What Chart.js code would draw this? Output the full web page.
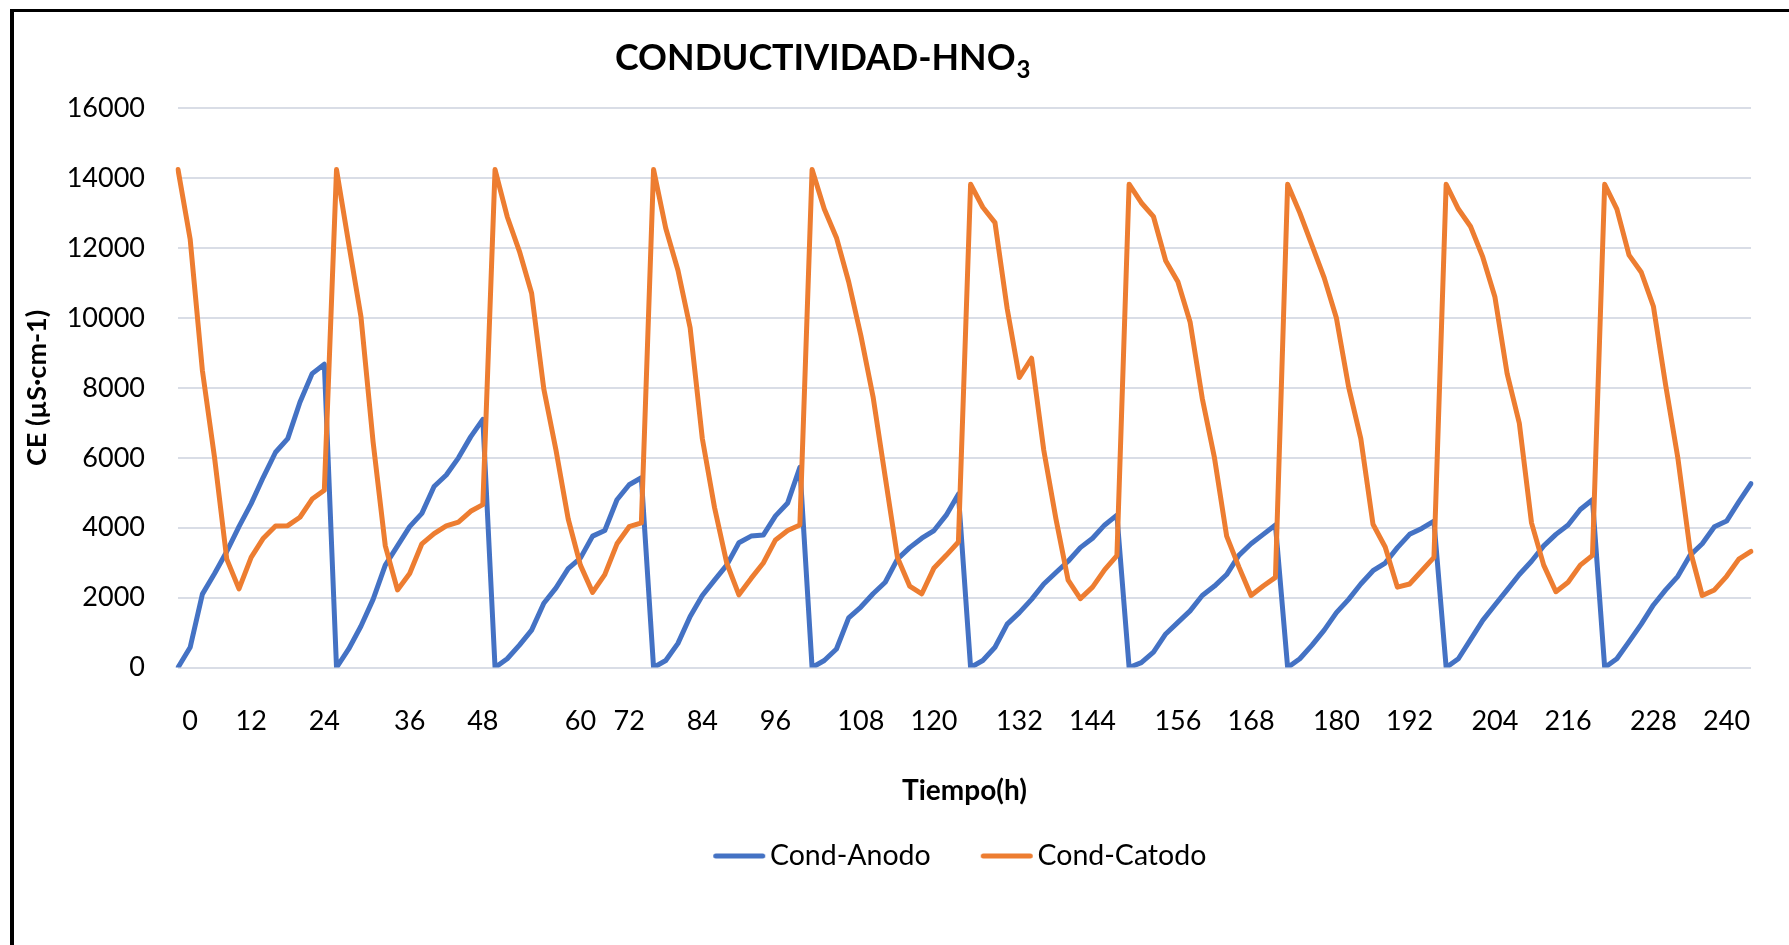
<!DOCTYPE html>
<html>
<head>
<meta charset="utf-8">
<script src="https://cdn.jsdelivr.net/npm/chart.js@4"></script>
<style>
  html, body { margin: 0; padding: 0; background: #ffffff; }
  #wrap { width: 1789px; height: 945px; position: relative; }
</style>
</head>
<body>
<div id="wrap"><canvas id="c"></canvas></div>
<script>
// ---- data ----
const chartTitle = 'CONDUCTIVIDAD-HNO';
const chartTitleSub = '3';
const xTitle = 'Tiempo(h)';
const yTitle = 'CE (µS·cm-1)';
const seriesNames = ['Cond-Anodo', 'Cond-Catodo'];

const categories = [
  '', '0', '', '', '', '', '12', '', '', '', '', '', '24',
  '', '', '', '', '', '', '36', '', '', '', '', '', '48',
  '', '', '', '', '', '', '', '60', '', '', '', '72', '',
  '', '', '', '', '84', '', '', '', '', '', '96', '', '',
  '', '', '', '', '108', '', '', '', '', '', '120', '', '',
  '', '', '', '', '132', '', '', '', '', '', '144', '', '',
  '', '', '', '', '156', '', '', '', '', '', '168', '', '',
  '', '', '', '', '180', '', '', '', '', '', '192', '', '',
  '', '', '', '', '204', '', '', '', '', '', '216', '', '',
  '', '', '', '', '228', '', '', '', '', '', '240', '', ''
];

const condAnodo = [
  0, 580, 2100, 2690, 3320, 4030, 4690, 5450, 6160, 6550, 7590, 8410, 8680,
  0, 530, 1180, 1950, 2930, 3480, 4030, 4410, 5180, 5510, 6000, 6600, 7100,
  0, 250, 640, 1070, 1840, 2280, 2830, 3130, 3760, 3920, 4800, 5230, 5430,
  0, 200, 690, 1460, 2060, 2500, 2930, 3570, 3760, 3790, 4340, 4710, 5730,
  0, 200, 530, 1420, 1730, 2110, 2440, 3100, 3430, 3700, 3920, 4360, 4960,
  0, 200, 580, 1240, 1570, 1950, 2390, 2720, 3040, 3430, 3700, 4080, 4360,
  0, 140, 440, 960, 1290, 1620, 2060, 2330, 2660, 3210, 3540, 3810, 4080,
  0, 250, 640, 1070, 1570, 1950, 2390, 2770, 2990, 3430, 3810, 3980, 4190,
  0, 250, 800, 1350, 1790, 2220, 2660, 3040, 3480, 3810, 4080, 4520, 4800,
  0, 250, 740, 1240, 1790, 2220, 2610, 3210, 3540, 4030, 4190, 4740, 5260
];

const condCatodo = [
  14250, 12250, 8500, 6000, 3100, 2250, 3150, 3700, 4050, 4060, 4300, 4820, 5070,
  14250, 12130, 10050, 6450, 3480, 2220, 2690, 3540, 3830, 4050, 4160, 4470, 4660,
  14250, 12900, 11910, 10710, 7970, 6220, 4250, 2930, 2150, 2660, 3540, 4030, 4140,
  14250, 12570, 11370, 9720, 6550, 4580, 2990, 2080, 2550, 2990, 3650, 3920, 4080,
  14250, 13120, 12300, 11040, 9500, 7750, 5450, 3150, 2330, 2110, 2850, 3210, 3590,
  13830, 13170, 12730, 10270, 8300, 8850, 6220, 4250, 2500, 1970, 2300, 2800, 3200,
  13830, 13300, 12900, 11640, 11040, 9890, 7700, 6000, 3760, 2880, 2060, 2330, 2580,
  13830, 13010, 12080, 11150, 10000, 8030, 6550, 4100, 3450, 2300, 2390, 2770, 3150,
  13830, 13120, 12620, 11750, 10600, 8410, 6990, 4140, 2930, 2170, 2440, 2930, 3210,
  13830, 13120, 11800, 11310, 10330, 8080, 6000, 3370, 2060, 2220, 2610, 3100, 3320
];

const colors = ['#4472C4', '#ED7D31'];

// legend line markers (round-capped strokes)
function lineMarker(color) {
  const c = document.createElement('canvas');
  c.width = 58; c.height = 8;
  const g = c.getContext('2d');
  g.strokeStyle = color;
  g.lineWidth = 5;
  g.lineCap = 'round';
  g.beginPath();
  g.moveTo(5.5, 4);
  g.lineTo(52.5, 4);
  g.stroke();
  return c;
}
const markers = colors.map(lineMarker);

// ---- plugins ----
const frameAndTitle = {
  id: 'frameAndTitle',
  beforeDraw(chart) {
    const ctx = chart.ctx;
    ctx.save();
    ctx.fillStyle = '#ffffff';
    ctx.fillRect(0, 0, chart.width, chart.height);
    ctx.fillStyle = '#000000';
    ctx.fillRect(10, 9, 4, chart.height - 9);
    ctx.fillRect(10, 9, chart.width - 10, 3);
    ctx.restore();
  },
  afterDraw(chart) {
    const ctx = chart.ctx;
    ctx.save();
    ctx.fillStyle = '#000000';
    ctx.textBaseline = 'alphabetic';
    ctx.textAlign = 'left';
    ctx.font = 'bold 35.8px Lato';
    const x0 = 615, y0 = 70;
    ctx.fillText(chartTitle, x0, y0);
    const w = ctx.measureText(chartTitle).width;
    ctx.font = 'bold 24px Lato';
    ctx.fillText(chartTitleSub, x0 + w + 1, y0 + 8);
    ctx.restore();
  }
};

Chart.defaults.font.family = 'Lato';
Chart.defaults.color = '#000000';

new Chart(document.getElementById('c'), {
  type: 'line',
  data: {
    labels: categories,
    datasets: [
      {
        label: seriesNames[0],
        data: condAnodo,
        borderColor: colors[0],
        backgroundColor: colors[0],
        borderWidth: 5,
        pointRadius: 0,
        pointHoverRadius: 0,
        tension: 0,
        borderCapStyle: 'round',
        borderJoinStyle: 'round',
        order: 1
      },
      {
        label: seriesNames[1],
        data: condCatodo,
        borderColor: colors[1],
        backgroundColor: colors[1],
        borderWidth: 5,
        pointRadius: 0,
        pointHoverRadius: 0,
        tension: 0,
        borderCapStyle: 'round',
        borderJoinStyle: 'round',
        order: 0
      }
    ]
  },
  options: {
    responsive: true,
    maintainAspectRatio: false,
    animation: false,
    devicePixelRatio: 1,
    layout: { padding: { top: 108.4, left: 0, right: 37, bottom: 64.75 } },
    plugins: {
      title: { display: false },
      tooltip: { enabled: false },
      legend: {
        display: true,
        position: 'bottom',
        fullSize: false,
        labels: {
          usePointStyle: true,
          pointStyleWidth: 33,
          padding: 59.5,
          color: '#000000',
          font: { size: 28.5, family: 'Lato' },
          sort: (a, b) => a.datasetIndex - b.datasetIndex,
          generateLabels(chart) {
            const items = Chart.defaults.plugins.legend.labels.generateLabels(chart);
            items.forEach(it => { it.pointStyle = markers[it.datasetIndex]; });
            return items;
          }
        }
      }
    },
    scales: {
      x: {
        type: 'category',
        offset: false,
        grid: { display: false, drawTicks: false },
        border: { display: false },
        ticks: {
          autoSkip: false,
          maxRotation: 0,
          minRotation: 0,
          padding: 38,
          color: '#000000',
          font: { size: 27, family: 'Lato' }
        },
        title: {
          display: true,
          text: xTitle,
          color: '#000000',
          font: { size: 28, weight: 'bold', family: 'Lato' },
          padding: { top: 0, bottom: -25.6 }
        },
        afterFit(scale) { scale.height = 114.75; }
      },
      y: {
        min: 0,
        max: 16000,
        ticks: {
          stepSize: 2000,
          padding: 33,
          color: '#000000',
          font: { size: 27, family: 'Lato' },
          callback: (v) => String(v)
        },
        grid: { color: '#d9dde6', lineWidth: 2, drawTicks: false },
        border: { display: false },
        title: {
          display: true,
          text: yTitle,
          color: '#000000',
          font: { size: 27, weight: 'bold', family: 'Lato' },
          padding: { top: 21, bottom: 0 }
        },
        afterFit(scale) { scale.width = 178; }
      }
    }
  },
  plugins: [frameAndTitle]
});
</script>
</body>
</html>
